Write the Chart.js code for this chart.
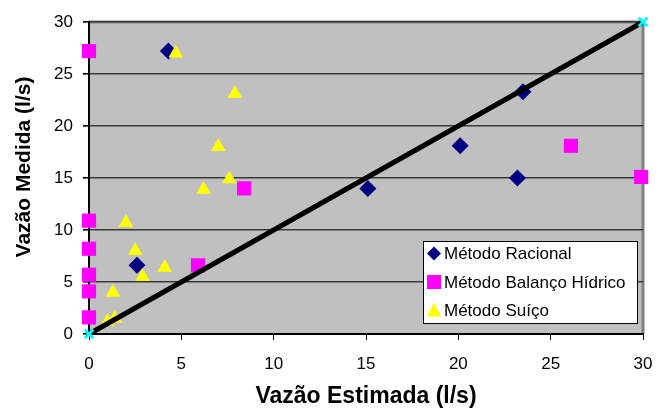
<!DOCTYPE html>
<html lang="pt">
<head>
  <meta charset="UTF-8" />
  <title>Vazão Medida x Vazão Estimada</title>
  <script src="https://cdn.jsdelivr.net/npm/chart.js"></script>
  <style>
    html, body {
      margin: 0;
      background: #fff;
    }
    .chart_box {
      width: 657px;
      height: 413px;
      position: relative;
    }
  </style>
</head>
<body>
  <div class="chart_box">
    <canvas id="vazaoChart"></canvas>
  </div>
  <script>
    // Método Racional
    const racionalX = [4.3, 2.6, 15.1, 20.1, 23.2, 23.5];
    const racionalY = [27.2, 6.6, 14.0, 18.1, 15.0, 23.3];
    // Método Balanço Hídrico
    const balancoX = [0, 0, 0, 0, 0, 0, 5.9, 8.4, 26.1, 29.9];
    const balancoY = [27.2, 10.9, 8.2, 5.7, 4.1, 1.6, 6.6, 14.0, 18.1, 15.1];
    // Método Suíço
    const suicoX = [4.7, 7.9, 7.0, 7.6, 6.2, 2.0, 2.5, 2.9, 4.1, 1.3, 1.0, 1.4];
    const suicoY = [27.0, 23.1, 18.0, 14.9, 13.9, 10.7, 8.0, 5.5, 6.4, 4.0, 1.2, 1.5];
    // reta 1:1
    const retaX = [0, 30];
    const retaY = [0, 30];

    const axisMin = 0;
    const axisMax = 30;
    const axisStep = 5;

    const toPoints = (xs, ys) => xs.map((x, i) => ({ x: x, y: ys[i] }));

    const legendItems = [
      { text: 'Método Racional', shape: 'diamond', color: '#000080' },
      { text: 'Método Balanço Hídrico', shape: 'square', color: '#FF00FF' },
      { text: 'Método Suíço', shape: 'triangle', color: '#FFFF00' }
    ];

    // fundo cinza e moldura da área de plotagem
    const plotFrame = {
      id: 'plotFrame',
      beforeDraw(chart) {
        const { ctx, chartArea: a } = chart;
        ctx.save();
        ctx.fillStyle = '#C0C0C0';
        ctx.fillRect(a.left, a.top, a.right - a.left, a.bottom - a.top);
        ctx.strokeStyle = '#808080';
        ctx.lineWidth = 3;
        ctx.beginPath();
        ctx.moveTo(a.left, a.top);
        ctx.lineTo(a.right, a.top);
        ctx.lineTo(a.right, a.bottom);
        ctx.stroke();
        ctx.restore();
      },
      // título do eixo Y, um pouco acima do centro
      afterDraw(chart) {
        const { ctx, chartArea: a } = chart;
        ctx.save();
        ctx.translate(24, (a.top + a.bottom) / 2 - 11);
        ctx.rotate(-Math.PI / 2);
        ctx.font = 'bold 21px "Liberation Sans", Arial, sans-serif';
        ctx.fillStyle = '#000';
        ctx.textAlign = 'center';
        ctx.textBaseline = 'middle';
        ctx.fillText('Vazão Medida (l/s)', 0, 0);
        ctx.restore();
      }
    };

    // legenda dentro da área de plotagem, canto inferior direito
    const boxLegend = {
      id: 'boxLegend',
      afterDraw(chart) {
        const { ctx, chartArea: a } = chart;
        ctx.save();
        ctx.font = '17px "Liberation Sans", Arial, sans-serif';
        const textW = Math.max(...legendItems.map(it => ctx.measureText(it.text).width));
        const rowH = 28.5;
        const w = Math.round(textW + 34);
        const h = 83;
        const right = a.right - 5;
        const bottom = a.bottom - 10;
        const left = right - w;
        const top = bottom - h;
        ctx.fillStyle = '#fff';
        ctx.fillRect(left, top, w, h);
        ctx.strokeStyle = '#000';
        ctx.lineWidth = 1;
        ctx.strokeRect(left + 0.5, top + 0.5, w - 1, h - 1);
        legendItems.forEach((it, i) => {
          const cy = top + 12.5 + i * rowH;
          const cx = left + 11;
          ctx.fillStyle = it.color;
          ctx.beginPath();
          if (it.shape === 'diamond') {
            ctx.moveTo(cx, cy - 7);
            ctx.lineTo(cx + 7, cy);
            ctx.lineTo(cx, cy + 7);
            ctx.lineTo(cx - 7, cy);
          } else if (it.shape === 'square') {
            ctx.rect(cx - 7, cy - 7, 14, 14);
          } else {
            ctx.moveTo(cx, cy - 8);
            ctx.lineTo(cx + 7, cy + 6);
            ctx.lineTo(cx - 7, cy + 6);
          }
          ctx.closePath();
          ctx.fill();
          ctx.fillStyle = '#000';
          ctx.textBaseline = 'middle';
          ctx.textAlign = 'left';
          ctx.fillText(it.text, left + 21, cy + 1);
        });
        ctx.restore();
      }
    };

    const tickFont = { family: '"Liberation Sans", Arial, sans-serif', size: 17 };
    const titleFont = { family: '"Liberation Sans", Arial, sans-serif', size: 23, weight: 'bold' };

    new Chart('vazaoChart', {
      type: 'scatter',
      data: {
        datasets: [{
          label: 'Reta 1:1',
          data: toPoints(retaX, retaY),
          showLine: true,
          borderColor: '#000',
          borderWidth: 5,
          pointStyle: 'crossRot',
          pointRadius: 6,
          pointBorderColor: '#00FFFF',
          pointBorderWidth: 3,
          clip: false,
          order: 0
        },
        {
          label: 'Método Suíço',
          data: toPoints(suicoX, suicoY),
          pointStyle: 'triangle',
          pointRadius: 8.5,
          backgroundColor: '#FFFF00',
          borderColor: '#FFFF00',
          borderWidth: 0,
          clip: false,
          order: 1
        },
        {
          label: 'Método Balanço Hídrico',
          data: toPoints(balancoX, balancoY),
          pointStyle: 'rect',
          pointRadius: 10,
          backgroundColor: '#FF00FF',
          borderColor: '#FF00FF',
          borderWidth: 0,
          clip: false,
          order: 2
        },
        {
          label: 'Método Racional',
          data: toPoints(racionalX, racionalY),
          pointStyle: 'rectRot',
          pointRadius: 8.5,
          backgroundColor: '#000080',
          borderColor: '#000080',
          borderWidth: 0,
          clip: false,
          order: 3
        }]
      },
      options: {
        responsive: true,
        maintainAspectRatio: false,
        animation: false,
        layout: { padding: { top: 22, right: 14, left: 0, bottom: 0 } },
        plugins: {
          legend: { display: false },
          tooltip: { enabled: false }
        },
        scales: {
          x: {
            type: 'linear',
            min: axisMin,
            max: axisMax,
            afterFit(scale) {
              scale.height = 79;
              scale.paddingLeft = 0;
              scale.paddingRight = 0;
            },
            ticks: { stepSize: axisStep, color: '#000', font: tickFont, padding: 14, maxRotation: 0 },
            grid: { drawOnChartArea: false, drawTicks: true, tickLength: 6, tickColor: '#000' },
            border: { color: '#000', width: 2 },
            title: { display: true, text: 'Vazão Estimada (l/s)', color: '#000', font: titleFont, padding: { top: 0, bottom: 3 } }
          },
          y: {
            type: 'linear',
            min: axisMin,
            max: axisMax,
            afterFit(scale) {
              scale.width = 89;
              scale.paddingTop = 0;
              scale.paddingBottom = 0;
            },
            ticks: { stepSize: axisStep, color: '#000', font: tickFont, padding: 10 },
            grid: { color: '#3a3a3a', lineWidth: 1.6, tickLength: 6, tickColor: '#000' },
            border: { color: '#000', width: 2 }
          }
        }
      },
      plugins: [plotFrame, boxLegend]
    });
  </script>
</body>
</html>
